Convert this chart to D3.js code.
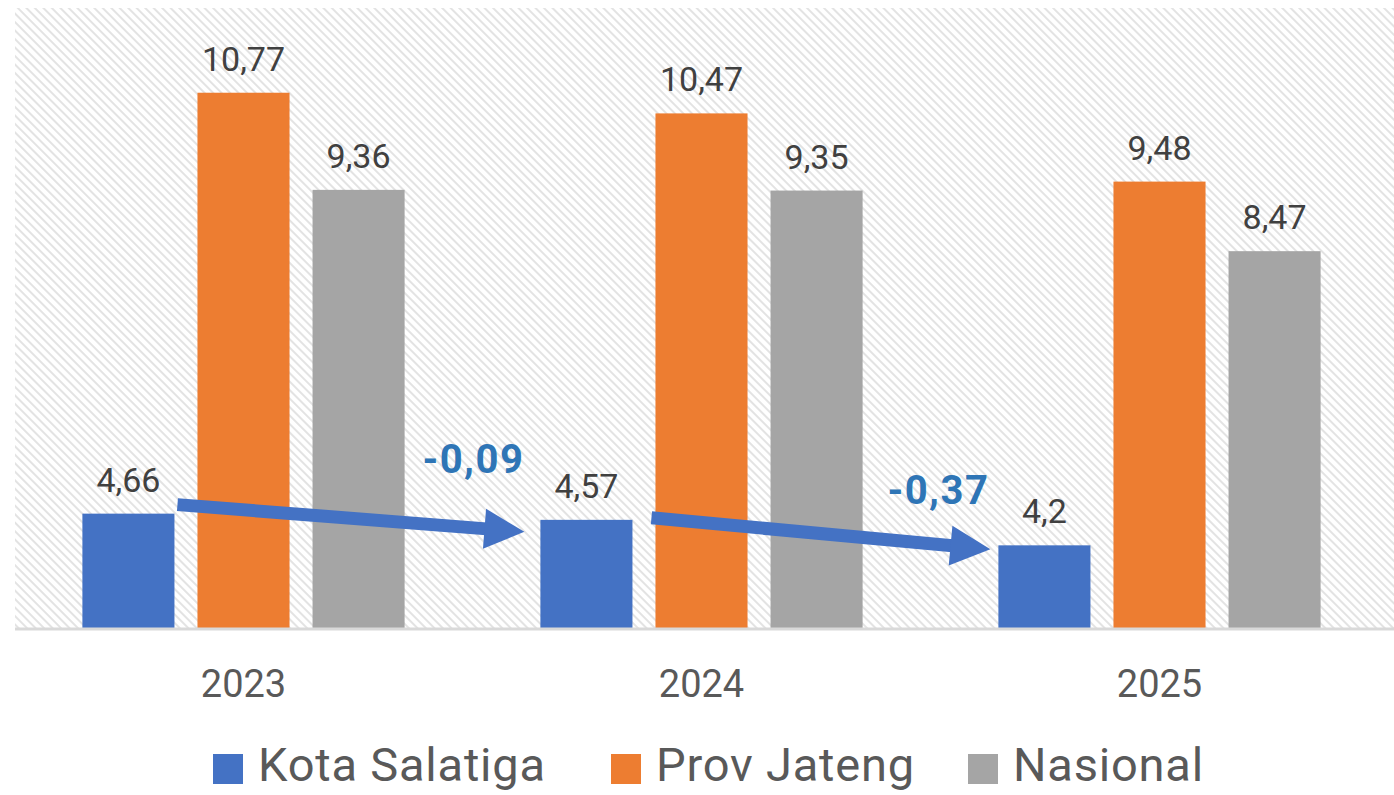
<!DOCTYPE html>
<html>
<head>
<meta charset="utf-8">
<script src="https://cdn.jsdelivr.net/npm/d3@7"></script>
<style>
html,body{margin:0;padding:0;background:#fff;}
svg{display:block;font-family:Roboto,"Open Sans",sans-serif;}
</style>
</head>
<body>
<svg id="chart" width="1394" height="795"></svg>
<script>
const years = ["2023", "2024", "2025"];
const seriesNames = ["Kota Salatiga", "Prov Jateng", "Nasional"];
const salatiga = [4.66, 4.57, 4.2];
const jateng = [10.77, 10.47, 9.48];
const nasional = [9.36, 9.35, 8.47];
const changes = ["-0,09", "-0,37"];
const colors = ["#4472c4", "#ed7d31", "#a5a5a5"];

const seriesValues = [salatiga, jateng, nasional];
const fmt = v => String(v).replace(".", ",");

const svg = d3.select("#chart");
const W = 1394, H = 795;
const plot = {left: 14.5, right: 1388.5, top: 8, bottom: 628};

// hatch pattern
const defs = svg.append("defs");
const pat = defs.append("pattern").attr("id", "hatch").attr("patternUnits", "userSpaceOnUse")
  .attr("width", 6).attr("height", 6).attr("patternTransform", "rotate(-45)");
pat.append("rect").attr("width", 6).attr("height", 6).attr("fill", "#ffffff");
pat.append("line").attr("x1", 1).attr("y1", 0).attr("x2", 1).attr("y2", 6)
  .attr("stroke", "#dcdcdc").attr("stroke-width", 1.6);

svg.append("rect").attr("x", 15).attr("y", plot.top)
  .attr("width", W - 15).attr("height", plot.bottom - plot.top)
  .attr("fill", "url(#hatch)");

const x0 = d3.scaleBand().domain(years).range([plot.left, plot.right]).paddingInner(0).paddingOuter(0);
const x1 = d3.scaleBand().domain(seriesNames).range([0, x0.bandwidth()]).paddingInner(0.2).paddingOuter(0.59);
const y = d3.scaleLinear().domain([3, 12]).range([plot.bottom, plot.top]);

// bars
const g = svg.append("g");
years.forEach((yr, i) => {
  seriesNames.forEach((s, j) => {
    const v = seriesValues[j][i];
    const bx = x0(yr) + x1(s);
    g.append("rect").attr("x", bx).attr("y", y(v))
      .attr("width", x1.bandwidth()).attr("height", y(3) - y(v))
      .attr("fill", colors[j]);
    g.append("text").attr("x", bx + x1.bandwidth() / 2).attr("y", y(v) - 22)
      .attr("text-anchor", "middle").attr("font-size", 34).attr("fill", "#404040")
      .text(fmt(v));
  });
});

// baseline axis
const xAxis = d3.axisBottom(x0).tickSize(0).tickPadding(41);
const ax = svg.append("g").attr("transform", `translate(0,${plot.bottom})`).call(xAxis);
ax.select(".domain").remove();
ax.selectAll("text").attr("font-size", 38).attr("fill", "#595959")
  .attr("font-family", "Roboto,sans-serif").attr("dy", "0").attr("y", 69);
svg.append("line").attr("x1", 15).attr("x2", W).attr("y1", plot.bottom + 1).attr("y2", plot.bottom + 1)
  .attr("stroke", "#d9d9d9").attr("stroke-width", 3);

// arrows between Salatiga bars (hand-placed annotation offsets)
const arrowOffsets = [
  {sx: 3, sy: -9, ex: -16, ey: 12},
  {sx: 19, sy: -2, ex: -8, ey: 4}
];
for (let i = 0; i < years.length - 1; i++) {
  const o = arrowOffsets[i];
  const sx = x0(years[i]) + x1(seriesNames[0]) + x1.bandwidth() + o.sx;
  const sy = y(salatiga[i]) + o.sy;
  const nextLeft = x0(years[i + 1]) + x1(seriesNames[0]);
  const ex = nextLeft + o.ex;
  const ey = y(salatiga[i + 1]) + o.ey;
  const dx = ex - sx, dy = ey - sy, len = Math.hypot(dx, dy);
  const headLen = 40;
  const lx = ex - dx / len * (headLen - 2), ly = ey - dy / len * (headLen - 2);
  svg.append("line").attr("x1", sx).attr("y1", sy).attr("x2", lx).attr("y2", ly)
    .attr("stroke", "#4472c4").attr("stroke-width", 13);
  const nx = -dy / len, ny = dx / len, hw = 20;
  const bx = ex - dx / len * headLen, by = ey - dy / len * headLen;
  svg.append("path")
    .attr("d", `M${ex},${ey} L${bx + nx * hw},${by + ny * hw} L${bx - nx * hw},${by - ny * hw} Z`)
    .attr("fill", "#4472c4");
  svg.append("text").attr("x", nextLeft - (i === 0 ? 67 : 60))
    .attr("y", y(salatiga[i + 1]) - (i === 0 ? 47 : 41))
    .attr("text-anchor", "middle").attr("font-size", 40).attr("font-weight", "bold")
    .attr("letter-spacing", 1.5)
    .attr("fill", "#2e75b6").text(changes[i]);
}

// legend
const legend = svg.append("g").attr("transform", "translate(0,781)");
const legX = [213, 611, 968];
seriesNames.forEach((s, j) => {
  legend.append("rect").attr("x", legX[j]).attr("y", -27).attr("width", 30).attr("height", 30).attr("fill", colors[j]);
  legend.append("text").attr("x", legX[j] + 45).attr("y", 0).attr("font-size", 47)
    .attr("letter-spacing", 0.8)
    .attr("fill", "#595959").text(s);
});
</script>
</body>
</html>
